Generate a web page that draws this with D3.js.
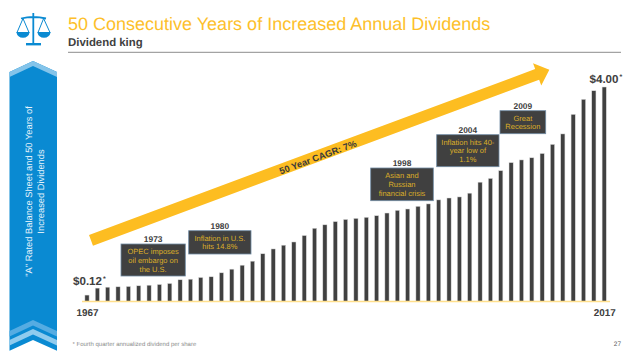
<!DOCTYPE html>
<html>
<head>
<meta charset="utf-8">
<script src="https://cdn.jsdelivr.net/npm/d3@7"></script>
<style>
    html, body { margin: 0; padding: 0; background: #fff; }
    svg { display: block; }
    text { font-family: "Liberation Sans", Arial, sans-serif; text-rendering: geometricPrecision; }
</style>
</head>
<body>
<div id="chart"></div>
<script>
const years = d3.range(1967, 2018);
const dividends = [
    0.12, 0.25, 0.267, 0.274, 0.28, 0.293, 0.304, 0.317, 0.336, 0.405,
    0.416, 0.448, 0.461, 0.535, 0.603, 0.677, 0.752, 0.89, 0.98, 1.05,
    1.11, 1.23, 1.366, 1.43, 1.49, 1.53, 1.55, 1.57, 1.60, 1.65,
    1.70, 1.725, 1.775, 1.82, 1.895, 1.93, 1.95, 2.02, 2.225, 2.295,
    2.44, 2.59, 2.64, 2.68, 2.76, 2.93, 3.125, 3.49, 3.77, 3.93, 4.00
];
const axisYears = [1967, 2017];

const eventYears = ['1973', '1980', '1998', '2004', '2009'];
const eventLines = [
    ['OPEC imposes', 'oil embargo on', 'the U.S.'],
    ['Inflation in U.S.', 'hits 14.8%'],
    ['Asian and', 'Russian', 'financial crisis'],
    ['Inflation hits 40-', 'year low of', '1.1%'],
    ['Great', 'Recession']
];
// x0, x1, y0, y1 of the callout boxes
const eventBoxes = [
    [121, 185.3, 244, 276],
    [188.7, 251, 230.7, 254],
    [370.7, 433.3, 168, 200.7],
    [436.7, 499, 134.7, 166.7],
    [500, 545.7, 110.7, 133.7]
];

const width = 640, height = 360;
const baseY = 301.5;
const blue = '#0a8ad2', gold = '#fdbd21', dark = '#404040';

const svg = d3.select('#chart').append('svg')
    .attr('width', width)
    .attr('height', height);

// x is centred on each year, 1967 at 87 and 2017 at 604
const x = d3.scalePoint().domain(years).range([87, 604.2]);
const y = d3.scaleLinear().domain([0, 4]).range([baseY, 87]);
const barWidth = 4.2;

// header
svg.append('text').attr('x', 68).attr('y', 29.5)
    .attr('font-size', 18).attr('fill', '#fdbf2b')
    .text('50 Consecutive Years of Increased Annual Dividends');
svg.append('text').attr('x', 68).attr('y', 45.7)
    .attr('font-size', 11.4).attr('font-weight', 'bold').attr('fill', dark)
    .text('Dividend king');
svg.append('line')
    .attr('x1', 68).attr('x2', 621).attr('y1', 52.3).attr('y2', 52.3)
    .attr('stroke', '#a3a3a3').attr('stroke-width', 1.3);

// scales icon
const icon = svg.append('g').attr('fill', 'none').attr('stroke', blue);
icon.append('path').attr('stroke-width', 1.8)
    .attr('d', 'M21,18.5Q33.3,15.5 46,18.5M33.3,13V43');
icon.append('path').attr('stroke-width', 2.4).attr('d', 'M26,44.2H41');
icon.append('path').attr('stroke-width', 1)
    .attr('d', 'M23,18.5L17,32.5M23,18.5L29,32.5M43.6,18.5L38,32.5M43.6,18.5L50,32.5');
icon.append('path').attr('fill', blue).attr('stroke', 'none')
    .attr('d', 'M16.3,32H29.7Q28.5,37.8 23,37.8Q17.5,37.8 16.3,32ZM37.3,32H50.7Q49.5,37.8 44,37.8Q38.5,37.8 37.3,32Z');

// side ribbon
const ribbon = svg.append('g');
ribbon.append('path').attr('fill', blue)
    .attr('d', 'M9.5,72L33,61L57,72V350.7L33,340L9.5,350.7Z');
ribbon.append('path').attr('fill', '#84c4ea')
    .attr('d', 'M9.5,72L33,61L57,72V77L33,66L9.5,77Z');
ribbon.append('path').attr('fill', '#55ace2')
    .attr('d', 'M9.5,331L33,320L57,331V336.5L33,325.5L9.5,336.5Z');
ribbon.append('path').attr('fill', '#8fcbee')
    .attr('d', 'M9.5,340L33,329L57,340V345.5L33,334.5L9.5,345.5Z');
const ribbonText = ribbon.append('text')
    .attr('transform', 'translate(33,191.5) rotate(-90)')
    .attr('text-anchor', 'middle').attr('font-size', 9.3).attr('fill', '#e6f3fb');
ribbonText.append('tspan').attr('x', 0).attr('y', -1.2)
    .text('"A" Rated Balance Sheet and 50 Years of');
ribbonText.append('tspan').attr('x', 0).attr('y', 11)
    .text('Increased Dividends');

// bars
svg.append('g').selectAll('rect')
    .data(dividends)
    .join('rect')
    .attr('x', (d, i) => x(years[i]) - barWidth / 2)
    .attr('y', d => y(d))
    .attr('width', barWidth)
    .attr('height', d => baseY - y(d))
    .attr('fill', dark)
    .attr('stroke', '#dcdcdc')
    .attr('stroke-width', 0.5);

// x axis, only the two end years are labelled
const axis = svg.append('g')
    .attr('transform', `translate(0,${baseY})`)
    .call(d3.axisBottom(x).tickValues(axisYears).tickSize(0).tickPadding(7));
axis.select('.domain').remove();
axis.selectAll('text')
    .attr('font-family', '"Liberation Sans", Arial, sans-serif')
    .attr('font-size', 9.9).attr('font-weight', 'bold').attr('fill', dark);
axis.insert('line', ':first-child')
    .attr('x1', 82).attr('x2', 610)
    .attr('stroke', '#ffdf8c').attr('stroke-width', 1.6);

// CAGR arrow
const arrow = svg.append('g').attr('transform', 'translate(91,240.3) rotate(-20.4)');
arrow.append('path').attr('fill', gold)
    .attr('d', 'M0,-5.7H476V-11.8L489,0L476,11.8V5.7H0Z');
arrow.append('text').attr('x', 241.6).attr('y', 4.5)
    .attr('text-anchor', 'middle').attr('font-size', 9.3).attr('font-weight', 'bold')
    .attr('fill', '#3a3a3a')
    .text('50 Year CAGR: 7%');

// event callouts
const events = svg.append('g').selectAll('g')
    .data(eventYears)
    .join('g');
events.append('rect')
    .attr('x', (d, i) => eventBoxes[i][0])
    .attr('y', (d, i) => eventBoxes[i][2])
    .attr('width', (d, i) => eventBoxes[i][1] - eventBoxes[i][0])
    .attr('height', (d, i) => eventBoxes[i][3] - eventBoxes[i][2])
    .attr('fill', dark)
    .attr('stroke', '#6f8aa3')
    .attr('stroke-width', 0.8);
events.append('text')
    .attr('x', (d, i) => (eventBoxes[i][0] + eventBoxes[i][1]) / 2)
    .attr('y', (d, i) => eventBoxes[i][2] - 2)
    .attr('text-anchor', 'middle').attr('font-size', 8.4).attr('font-weight', 'bold')
    .attr('fill', dark)
    .text(d => d);
events.each(function (d, i) {
    const box = eventBoxes[i], lines = eventLines[i];
    const midY = (box[2] + box[3]) / 2;
    d3.select(this).selectAll('text.line')
        .data(lines)
        .join('text')
        .attr('class', 'line')
        .attr('x', (box[0] + box[1]) / 2)
        .attr('y', (l, j) => midY + (j - (lines.length - 1) / 2) * 8.8 + 2.7)
        .attr('text-anchor', 'middle').attr('font-size', 7.5)
        .attr('fill', '#dcae28')
        .text(l => l);
});

// first and last values
const valueLabel = (textX, textY, label) => {
    const t = svg.append('text').attr('x', textX).attr('y', textY)
        .attr('font-size', 11.6).attr('font-weight', 'bold').attr('fill', dark)
        .text(label);
    t.append('tspan').attr('dy', -4).attr('dx', 1).attr('font-size', 7).text('*');
};
valueLabel(73, 285, '$0.12');
valueLabel(589.5, 83, '$4.00');

// footer
svg.append('text').attr('x', 72.5).attr('y', 346)
    .attr('font-size', 6).attr('fill', '#8c8c8c')
    .text('* Fourth quarter annualized dividend per share');
svg.append('text').attr('x', 621).attr('y', 346)
    .attr('text-anchor', 'end').attr('font-size', 6.5).attr('fill', '#595959')
    .text('27');
</script>
</body>
</html>
